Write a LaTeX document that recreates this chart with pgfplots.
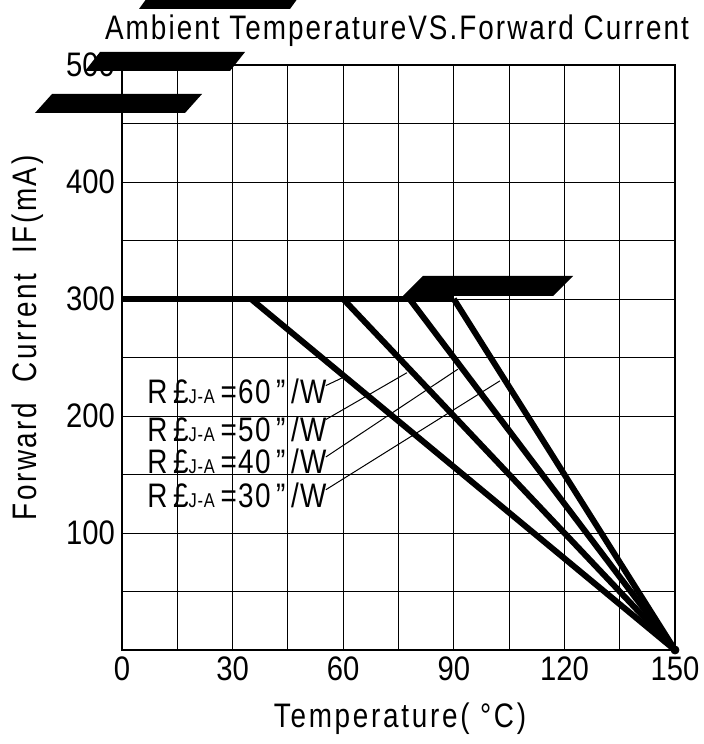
\documentclass[border=0pt]{standalone}
\usepackage{fontspec}
\setmainfont{Liberation Sans}[FakeStretch=0.82,LetterSpace=4]
\newfontfamily\digitfont{Liberation Sans}[FakeStretch=0.86]
\newfontfamily\titlefont{Liberation Sans}[FakeStretch=0.82,LetterSpace=6]
\newfontfamily\xlabfont{Liberation Sans}[FakeStretch=0.82,LetterSpace=8]
\newfontfamily\ylabfont{Liberation Sans}[FakeStretch=0.82,LetterSpace=7.5]
\usepackage{pgfplots}
\pgfplotsset{compat=1.18}

\newcommand\bigsize{\fontsize{17}{17}\selectfont}
\newcommand\rlab[1]{R\,£{\fontsize{10}{10}\selectfont J-A}\,=#1\,"\,/W}

\begin{document}
\begin{tikzpicture}
\useasboundingbox (-61pt,-47pt) rectangle (291pt,325pt);
\begin{axis}[
    scale only axis,
    width=276.5pt, height=292.5pt,
    xmin=0, xmax=150, ymin=0, ymax=500,
    xtick={0,30,...,150}, minor xtick={15,45,...,135},
    ytick={100,200,...,500}, minor ytick={50,150,...,450},
    xticklabels={0,30,60,90,120,150},
    yticklabels={100,200,300,400,500},
    grid=both,
    grid style={black, line width=0.45pt},
    minor grid style={black, line width=0.45pt},
    major tick length=0pt, minor tick length=0pt,
    axis line style={line width=0.6pt},
    tick label style={font=\digitfont\bigsize},
    clip=false,
    thick line/.style={black, line width=3pt, mark=none, line join=miter},
    leader/.style={black, line width=0.5pt, mark=none},
]
% IF = 300 mA plateau
\addplot[thick line] coordinates {(0,300) (90,300)};
% derating lines, R_thJ-A = 60, 50, 40, 30
\addplot[thick line] coordinates {(35,300) (150,0)};
\addplot[thick line] coordinates {(60,300) (150,0)};
\addplot[thick line] coordinates {(78,300) (150,0)};
\addplot[thick line] coordinates {(90,300) (150,0)};
\addplot[black, only marks, mark=*, mark size=2pt] coordinates {(150,0)};

% leader lines
\addplot[leader] coordinates {(55.3,226) (60,233)};
\addplot[leader] coordinates {(55.3,197) (77.3,237)};
\addplot[leader] coordinates {(55.3,165) (91.1,240)};
\addplot[leader] coordinates {(55.3,137) (102.5,230)};

\begin{scope}[font=\bigsize, inner sep=0pt]
\node[anchor=east] at (axis cs:55.6,221) {\rlab{60}};
\node[anchor=east] at (axis cs:55.6,189) {\rlab{50}};
\node[anchor=east] at (axis cs:55.6,161) {\rlab{40}};
\node[anchor=east] at (axis cs:55.6,132) {\rlab{30}};
\end{scope}
\end{axis}

\begin{scope}[inner sep=0pt]
\node[font={\titlefont\bigsize}] at (137.5pt,309.5pt) {Ambient TemperatureVS.Forward Current};
\node[font={\xlabfont\bigsize}] at (139pt,-34.5pt) {Temperature(\ °C)};
\node[font={\ylabfont\bigsize}, rotate=90] at (-47pt,156pt) {Forward\ \ Current\ \ IF(mA)};
\end{scope}

% black blocks over the sheet
\begin{scope}[shift={(-61pt,325pt)}, x=0.5pt, y=-0.5pt]
\fill (139,9) -- (147,-2) -- (298,-2) -- (290,9) -- cycle;
\fill (85,71) -- (100,52) -- (245,52) -- (230,71) -- cycle;
\fill (35,113) -- (52,94) -- (202,94) -- (185,113) -- cycle;
\fill (403,296) -- (423,276) -- (573,276) -- (553,296) -- cycle;
\end{scope}
\end{tikzpicture}
\end{document}
